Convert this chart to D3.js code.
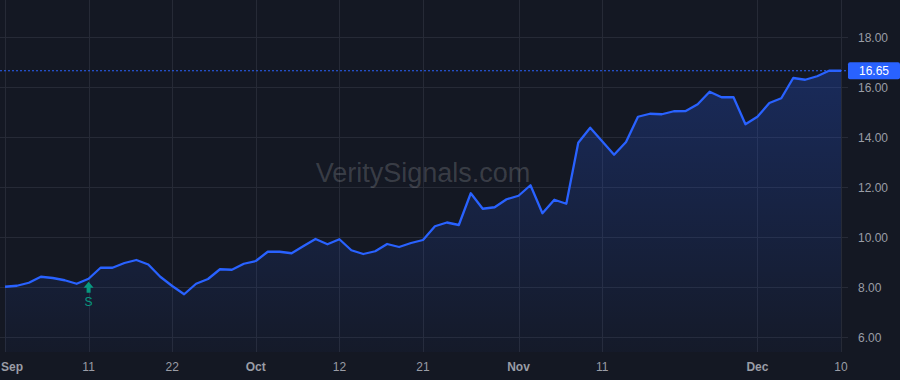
<!DOCTYPE html>
<html><head><meta charset="utf-8">
<script src="https://cdn.jsdelivr.net/npm/d3@7"></script>
<style>
html,body{margin:0;padding:0;background:#141823;}
svg{display:block;}
text{font-family:"Liberation Sans",Arial,sans-serif;}
</style></head>
<body>
<svg id="chart" width="900" height="380"></svg>
<script>
// ---- data ----
const dates = [
 "2020-09-01","2020-09-02","2020-09-03","2020-09-04","2020-09-08","2020-09-09","2020-09-10","2020-09-11",
 "2020-09-14","2020-09-15","2020-09-16","2020-09-17","2020-09-18","2020-09-21","2020-09-22","2020-09-23",
 "2020-09-24","2020-09-25","2020-09-28","2020-09-29","2020-09-30",
 "2020-10-01","2020-10-02","2020-10-05","2020-10-06","2020-10-07","2020-10-08","2020-10-09","2020-10-12",
 "2020-10-13","2020-10-14","2020-10-15","2020-10-16","2020-10-19","2020-10-20","2020-10-21","2020-10-22",
 "2020-10-23","2020-10-26","2020-10-27","2020-10-28","2020-10-29","2020-10-30",
 "2020-11-02","2020-11-03","2020-11-04","2020-11-05","2020-11-06","2020-11-09","2020-11-10","2020-11-11",
 "2020-11-12","2020-11-13","2020-11-16","2020-11-17","2020-11-18","2020-11-19","2020-11-20","2020-11-23",
 "2020-11-24","2020-11-25","2020-11-27","2020-11-30",
 "2020-12-01","2020-12-02","2020-12-03","2020-12-04","2020-12-07","2020-12-08","2020-12-09","2020-12-10"
];
const prices = [
 8.01,8.05,8.17,8.41,8.36,8.27,8.13,8.33,
 8.77,8.77,8.96,9.08,8.90,8.41,8.04,7.71,
 8.13,8.32,8.71,8.69,8.93,
 9.04,9.41,9.41,9.35,9.64,9.92,9.71,9.91,
 9.47,9.32,9.43,9.72,9.60,9.76,9.88,10.43,
 10.58,10.48,11.75,11.13,11.19,11.51,
 11.65,12.07,10.95,11.49,11.33,13.77,14.37,13.83,
 13.29,13.80,14.81,14.93,14.91,15.03,15.04,15.31,
 15.81,15.59,15.59,14.51,
 14.81,15.36,15.55,16.36,16.29,16.43,16.65,16.65
];
const xTickDates  = ["2020-09-01","2020-09-11","2020-09-22","2020-10-01","2020-10-12","2020-10-21","2020-11-02","2020-11-11","2020-12-01","2020-12-10"];
const xTickLabels = ["Sep","11","22","Oct","12","21","Nov","11","Dec","10"];
const xTickBold   = [true,false,false,true,false,false,true,false,true,false];
const yTicks = [6,8,10,12,14,16,18];
const lastPrice = 16.65;
const signalDate = "2020-09-11";
const signalLabel = "S";
const watermark = "VeritySignals.com";

// ---- layout ----
const W = 900, H = 380;
const plotRight = 842, plotBottom = 352;
const svg = d3.select("#chart");
const bg = "#141823", grid = "#262a36", axisText = "#9a9da6", blue = "#2962ff", green = "#089981";

svg.append("rect").attr("width",W).attr("height",H).attr("fill",bg);

const x = d3.scalePoint().domain(dates).range([5, 841]);
const y = d3.scaleLinear().domain([6,18]).range([337,37]);

// gradient
const defs = svg.append("defs");
const grad = defs.append("linearGradient").attr("id","areaGrad")
  .attr("gradientUnits","userSpaceOnUse").attr("x1",0).attr("x2",0).attr("y1",y(17)).attr("y2",plotBottom);
grad.append("stop").attr("offset","0%").attr("stop-color",blue).attr("stop-opacity",0.26);
grad.append("stop").attr("offset","100%").attr("stop-color",blue).attr("stop-opacity",0.03);

// grid
const gGrid = svg.append("g");
gGrid.selectAll("line.h").data(yTicks).join("line")
  .attr("x1",0).attr("x2",plotRight+6).attr("y1",d=>y(d)+0.5).attr("y2",d=>y(d)+0.5)
  .attr("stroke",grid).attr("stroke-width",1);
gGrid.selectAll("line.v").data(xTickDates).join("line")
  .attr("x1",d=>Math.round(x(d))+0.5).attr("x2",d=>Math.round(x(d))+0.5).attr("y1",0).attr("y2",plotBottom)
  .attr("stroke",grid).attr("stroke-width",1);

// watermark
svg.append("text").attr("x",423).attr("y",182).attr("text-anchor","middle")
  .attr("font-size",27).attr("fill","rgba(255,255,255,0.17)").text(watermark);

// area + line
const data = dates.map((d,i)=>({d, v:prices[i]}));
svg.append("path").datum(data)
  .attr("d", d3.area().x(p=>x(p.d)).y0(plotBottom).y1(p=>y(p.v)))
  .attr("fill","url(#areaGrad)");
svg.append("path").datum(data)
  .attr("d", d3.line().x(p=>x(p.d)).y(p=>y(p.v)))
  .attr("fill","none").attr("stroke",blue).attr("stroke-width",2.3).attr("stroke-linejoin","round");

// last price dashed line
svg.append("line").attr("x1",0).attr("x2",plotRight+6).attr("y1",y(lastPrice)).attr("y2",y(lastPrice))
  .attr("stroke",blue).attr("stroke-width",1).attr("stroke-dasharray","2,2");

// right axis labels
const gY = svg.append("g");
gY.selectAll("text").data(yTicks).join("text")
  .attr("x",858).attr("y",d=>y(d)+4.5).attr("font-size",12).attr("fill",axisText)
  .text(d=>d3.format(".2f")(d));

// price tag
svg.append("rect").attr("x",848).attr("y",y(lastPrice)-8.5).attr("width",52).attr("height",17)
  .attr("rx",2).attr("fill",blue);
svg.append("text").attr("x",859).attr("y",y(lastPrice)+4.5).attr("font-size",12).attr("fill","#ffffff")
  .text(d3.format(".2f")(lastPrice));

// bottom axis labels
const gX = svg.append("g");
gX.selectAll("text").data(xTickDates).join("text")
  .attr("x",(d,i)=> i===0 ? 1 : x(d))
  .attr("text-anchor",(d,i)=> i===0 ? "start" : "middle")
  .attr("y",371).attr("font-size",12).attr("fill",axisText)
  .attr("font-weight",(d,i)=>xTickBold[i]?"bold":"normal")
  .text((d,i)=>xTickLabels[i]);

// signal marker
const sx = x(signalDate), sy = y(prices[dates.indexOf(signalDate)]);
const mTop = sy + 3;
svg.append("path")
  .attr("d", `M${sx},${mTop} L${sx+5},${mTop+6} L${sx+2},${mTop+6} L${sx+2},${mTop+11} L${sx-2},${mTop+11} L${sx-2},${mTop+6} L${sx-5},${mTop+6} Z`)
  .attr("fill",green);
svg.append("text").attr("x",sx).attr("y",mTop+24).attr("text-anchor","middle")
  .attr("font-size",12).attr("fill",green).text(signalLabel);
</script>
</body></html>
